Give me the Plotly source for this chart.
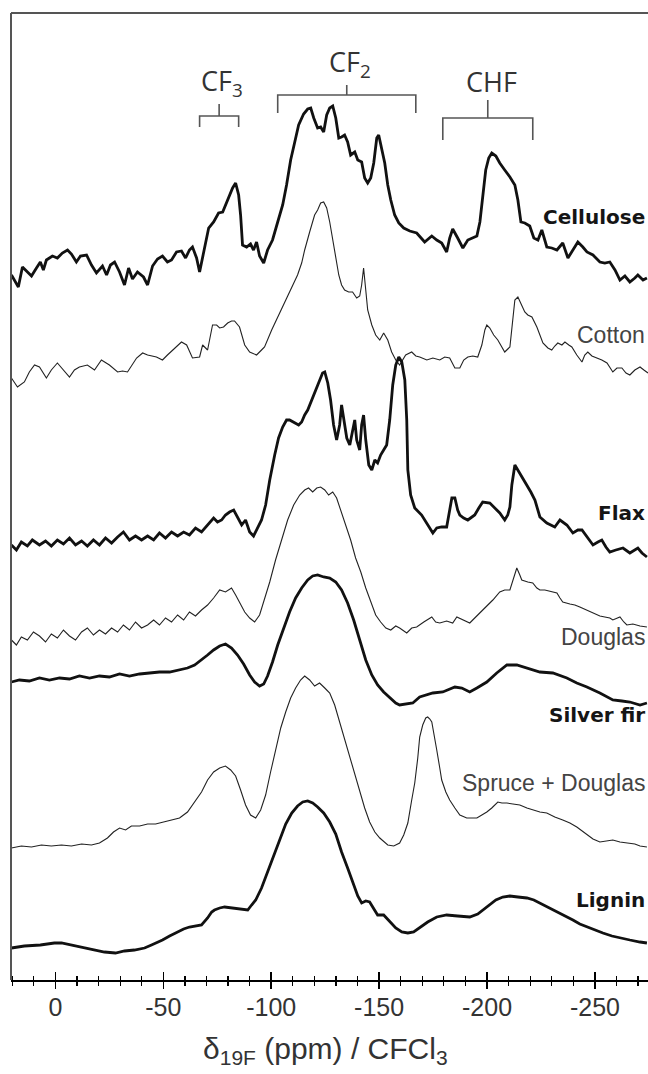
import plotly.graph_objects as go

# ---------------- data (ppm, intensity above each spectrum's own baseline) ----------------
cellulose_ppm = [20.4,19.0,17.2,15.3,13.0,11.1,8.8,7.0,5.6,4.2,
 1.4,-0.9,-3.2,-5.6,-7.4,-9.7,-11.6,-14.4,-16.7,-19.0,
 -21.8,-23.7,-25.5,-27.4,-29.7,-32.0,-33.9,-35.7,-38.0,-40.8,
 -42.7,-45.0,-47.3,-49.6,-51.9,-53.8,-56.1,-58.4,-60.3,-62.1,
 -63.5,-65.4,-66.8,-69.1,-71.0,-73.3,-75.6,-77.5,-78.8,-80.7,
 -82.1,-83.5,-84.9,-85.8,-86.7,-88.6,-90.4,-91.8,-93.2,-94.6,
 -96.5,-98.3,-100.6,-103.0,-105.3,-107.1,-109.0,-110.8,-112.7,-115.0,
 -116.9,-118.3,-119.7,-121.5,-122.9,-124.3,-125.7,-127.1,-128.5,-129.9,
 -131.3,-132.6,-134.0,-135.4,-136.8,-138.7,-140.1,-141.9,-143.3,-144.7,
 -146.1,-147.5,-148.9,-149.8,-151.2,-152.6,-154.0,-155.4,-157.2,-159.1,
 -161.4,-164.2,-167.4,-171.1,-174.4,-176.7,-179.0,-181.3,-182.7,-184.1,
 -186.4,-188.8,-191.1,-193.4,-195.3,-196.7,-198.0,-199.4,-200.8,-202.2,
 -204.1,-205.9,-208.2,-210.6,-212.9,-214.3,-215.7,-217.5,-219.8,-221.7,
 -223.6,-225.4,-227.7,-230.0,-232.4,-235.1,-237.5,-239.8,-242.1,-244.4,
 -246.3,-249.1,-252.3,-254.6,-256.9,-259.3,-261.6,-263.9,-266.2,-268.5,
 -269.9,-272.3,-274.1]
cellulose_int = [5,0,-7,13,8,4,12,18,10,20,
 24,22,27,30,26,18,24,25,15,7,
 14,5,15,18,8,-5,12,1,8,3,
 -5,14,21,24,18,20,28,29,22,30,
 33,22,8,32,52,58,67,68,75,84,
 92,97,85,65,35,33,36,30,38,24,
 17,30,40,58,75,95,120,137,155,166,
 171,172,162,152,153,148,165,172,174,162,
 142,143,145,138,125,128,120,118,102,97,
 102,117,142,145,132,117,95,80,65,57,
 52,49,47,38,44,40,37,28,42,51,
 42,32,40,42,44,58,85,110,122,127,
 124,117,110,103,95,80,58,57,54,42,
 40,50,33,32,30,37,22,30,38,33,
 28,25,18,17,18,10,0,4,-2,2,
 5,0,2]

cotton_ppm = [20.4,17.6,14.4,12.1,9.7,7.4,4.2,1.9,-0.9,-3.7,
 -6.5,-8.8,-11.1,-14.8,-18.1,-21.3,-25.0,-28.8,-31.1,-33.4,
 -35.7,-37.6,-40.4,-42.7,-46.8,-49.6,-51.9,-54.3,-56.6,-58.4,
 -60.8,-63.5,-66.8,-68.2,-70.5,-72.8,-74.7,-76.1,-77.9,-79.8,
 -81.6,-83.0,-85.3,-87.7,-90.0,-93.2,-95.5,-96.9,-100.2,-103.9,
 -106.2,-109.9,-112.2,-114.1,-115.5,-117.8,-120.1,-121.5,-122.9,-124.3,
 -125.7,-127.1,-128.5,-129.9,-131.3,-132.6,-134.0,-135.9,-137.7,-139.6,
 -141.0,-141.9,-142.8,-143.8,-144.7,-146.6,-148.4,-150.3,-152.1,-154.0,
 -155.8,-157.7,-159.5,-162.3,-165.1,-167.0,-168.8,-172.1,-174.9,-178.1,
 -180.4,-182.7,-185.1,-187.4,-189.2,-191.1,-193.4,-195.7,-197.6,-199.0,
 -199.9,-201.3,-203.1,-205.0,-206.9,-208.2,-210.6,-212.0,-212.9,-214.3,
 -215.7,-217.5,-218.9,-220.8,-223.1,-224.5,-225.9,-228.2,-230.0,-231.4,
 -232.8,-234.7,-236.1,-237.9,-239.3,-241.6,-244.0,-245.3,-246.7,-248.6,
 -250.9,-253.2,-255.6,-258.3,-260.2,-262.5,-264.4,-266.2,-268.5,-270.9,
 -272.7,-274.6]
cotton_int = [2,-7,-2,8,15,13,2,10,17,10,
 3,10,13,15,10,20,15,8,9,8,
 15,22,27,25,23,20,25,30,35,38,
 35,22,23,35,30,55,55,52,53,57,
 59,59,53,35,28,25,30,33,50,67,
 77,93,105,117,130,148,165,170,177,178,
 172,158,140,120,105,95,90,88,88,82,
 84,95,112,90,70,55,45,40,47,40,
 28,20,15,25,28,24,23,20,22,20,
 23,22,12,12,20,23,24,23,35,50,
 55,52,45,40,32,28,33,60,80,83,
 77,68,65,63,53,45,37,32,30,34,
 37,35,38,35,33,25,18,25,28,24,
 22,20,17,8,12,12,7,5,10,13,
 10,7]

flax_ppm = [20.4,18.1,15.8,13.0,10.7,7.4,4.6,1.9,-0.9,-3.7,
 -6.5,-9.3,-12.1,-14.8,-17.6,-20.4,-23.2,-26.0,-28.8,-31.5,
 -34.3,-37.1,-39.9,-42.7,-45.5,-48.2,-51.0,-53.8,-56.6,-59.4,
 -62.1,-64.9,-67.7,-70.5,-73.3,-75.1,-77.0,-78.8,-80.7,-82.6,
 -84.4,-86.3,-88.1,-90.0,-91.8,-93.7,-95.5,-97.4,-99.3,-101.6,
 -103.4,-105.3,-107.1,-108.5,-110.8,-112.7,-114.1,-115.5,-116.9,-118.7,
 -120.1,-122.0,-123.8,-124.8,-126.2,-127.5,-128.9,-130.3,-131.7,-132.6,
 -133.6,-135.0,-136.4,-137.7,-138.7,-139.6,-141.0,-141.9,-142.8,-143.8,
 -145.2,-146.6,-148.0,-149.3,-150.7,-152.1,-153.5,-154.9,-156.3,-157.7,
 -159.1,-160.5,-161.9,-162.8,-163.3,-164.6,-166.5,-169.7,-172.5,-174.9,
 -176.7,-179.0,-181.3,-182.7,-183.7,-185.1,-186.4,-187.4,-189.2,-191.1,
 -194.3,-196.2,-198.0,-201.3,-203.6,-205.9,-208.2,-209.6,-210.6,-211.5,
 -212.9,-214.3,-215.2,-217.1,-218.5,-220.3,-222.2,-224.5,-227.7,-231.4,
 -233.8,-237.0,-239.8,-242.1,-244.0,-246.7,-249.1,-251.4,-253.2,-255.1,
 -256.9,-259.7,-263.0,-266.2,-268.1,-269.9,-271.8,-274.1]
flax_int = [5,0,8,4,10,5,9,4,10,6,
 12,5,9,4,10,5,12,7,13,18,
 10,14,10,14,10,17,12,18,14,18,
 15,22,18,25,32,28,30,35,38,40,
 32,25,30,18,14,22,30,45,70,95,
 112,123,130,130,127,125,128,135,140,150,
 157,168,177,178,167,150,125,110,125,145,
 132,112,105,120,130,110,100,125,135,110,
 85,80,90,87,95,100,105,130,165,185,
 193,188,170,130,80,55,42,35,25,17,
 22,23,23,40,52,52,40,35,32,30,
 35,42,48,47,42,37,30,35,43,65,
 85,80,77,70,65,58,50,33,27,23,
 30,25,17,20,20,12,5,8,10,3,
 -2,0,2,-3,0,2,-3,-7]

douglas_ppm = [20.4,18.1,15.8,13.0,10.2,7.4,4.6,1.9,-0.9,-3.7,
 -6.5,-9.3,-12.1,-14.8,-17.6,-20.4,-23.2,-26.0,-28.8,-31.5,
 -34.3,-37.1,-39.9,-42.7,-45.5,-48.2,-51.0,-53.8,-56.6,-59.4,
 -62.1,-64.9,-67.7,-70.5,-73.3,-76.1,-78.8,-81.6,-83.5,-85.3,
 -87.7,-90.0,-92.3,-94.6,-96.9,-99.3,-102.0,-104.8,-107.6,-110.4,
 -113.2,-115.5,-117.3,-119.2,-121.1,-122.9,-124.8,-126.6,-128.5,-130.3,
 -132.2,-134.5,-136.8,-139.1,-141.5,-143.8,-146.1,-148.4,-150.7,-153.1,
 -155.4,-157.7,-159.5,-162.8,-165.1,-167.4,-170.7,-174.4,-176.2,-178.1,
 -181.3,-184.1,-186.0,-188.3,-192.0,-194.3,-196.7,-199.4,-202.7,-205.9,
 -208.2,-210.6,-212.4,-213.8,-215.2,-216.1,-218.9,-221.2,-223.1,-224.5,
 -226.8,-229.1,-232.4,-233.8,-235.1,-238.4,-240.7,-243.0,-246.3,-249.1,
 -252.3,-254.6,-256.9,-258.3,-260.2,-261.6,-263.4,-264.8,-267.6,-270.9,
 -274.1]
douglas_int = [0,-5,3,0,8,4,-2,6,2,10,
 4,0,8,12,5,10,6,12,8,15,
 10,18,12,15,20,15,22,18,25,20,
 28,24,30,35,42,50,48,52,45,38,
 28,22,18,25,40,58,80,100,120,135,
 145,150,152,148,152,153,150,145,148,142,
 130,115,100,82,68,52,38,25,18,12,
 10,14,12,7,12,13,18,23,18,17,
 19,17,23,21,17,22,27,33,40,48,
 50,50,62,72,65,60,58,57,52,50,
 50,49,47,42,38,36,35,33,30,27,
 24,23,22,20,22,23,18,15,16,14,
 13]

silverfir_ppm = [20.4,16.7,12.1,7.4,2.8,-1.9,-6.5,-11.1,-15.8,-20.4,
 -25.0,-29.7,-34.3,-39.0,-43.6,-48.2,-52.9,-57.5,-61.2,-64.5,
 -67.7,-70.5,-73.3,-76.1,-78.8,-81.6,-84.4,-87.2,-90.0,-92.3,
 -94.6,-96.5,-98.3,-100.6,-103.0,-105.7,-108.5,-111.3,-114.1,-116.9,
 -119.2,-121.5,-124.3,-127.1,-129.9,-132.6,-135.4,-138.2,-141.0,-143.8,
 -146.6,-149.3,-152.1,-154.9,-157.7,-159.5,-162.8,-165.6,-168.8,-172.1,
 -174.9,-179.5,-182.7,-185.1,-188.3,-192.0,-195.3,-199.9,-204.5,-209.2,
 -213.8,-218.5,-224.5,-230.5,-237.0,-241.6,-246.3,-252.3,-258.3,-262.5,
 -266.2,-270.9,-274.1]
silverfir_int = [23,25,24,27,25,27,26,29,27,29,
 28,31,29,31,32,33,33,35,37,40,
 45,50,55,59,61,57,50,41,30,23,
 19,21,29,43,60,77,93,107,117,125,
 129,130,128,127,123,115,102,85,65,45,
 30,20,13,7,2,0,1,2,8,10,
 12,13,16,18,17,13,17,23,32,40,
 40,37,33,32,27,22,18,12,5,4,
 3,0,2]

spruce_ppm = [20.4,15.8,11.1,6.5,1.9,-2.8,-7.4,-12.1,-16.7,-20.4,
 -24.1,-26.9,-29.7,-32.5,-35.2,-39.0,-42.7,-46.4,-50.1,-53.8,
 -57.5,-61.2,-64.5,-67.7,-70.5,-73.3,-76.1,-78.8,-81.2,-83.5,
 -85.8,-88.1,-90.4,-92.8,-95.1,-97.4,-99.7,-102.0,-104.4,-106.7,
 -109.0,-111.3,-113.6,-115.5,-117.8,-120.1,-122.4,-124.8,-127.1,-129.4,
 -131.7,-134.0,-136.4,-138.7,-141.0,-143.3,-145.6,-148.0,-150.3,-154.0,
 -156.8,-159.5,-161.4,-163.3,-165.1,-166.5,-167.9,-168.8,-170.2,-171.6,
 -172.5,-173.5,-174.4,-175.8,-176.7,-178.1,-179.0,-180.9,-182.7,-185.1,
 -187.4,-190.6,-192.9,-195.3,-197.6,-199.9,-202.2,-205.0,-206.9,-209.2,
 -212.0,-215.2,-218.5,-221.2,-224.5,-227.7,-231.4,-235.1,-238.4,-241.6,
 -244.0,-246.3,-249.1,-252.3,-255.6,-258.3,-261.6,-264.8,-268.5,-270.9,
 -274.1]
spruce_int = [0,2,1,3,2,3,2,4,3,5,
 10,16,20,18,22,22,24,24,26,28,
 30,36,46,56,68,76,80,82,78,72,
 58,43,33,30,38,53,76,98,120,136,
 150,160,168,172,168,162,165,160,155,143,
 126,108,90,73,56,40,26,16,10,3,
 2,5,13,25,48,65,90,111,123,130,
 131,129,126,111,98,80,68,56,48,40,
 33,30,30,30,33,36,40,46,45,45,
 44,43,40,38,36,35,31,28,25,21,
 17,13,9,6,7,8,6,5,4,2,
 1]

lignin_ppm = [20.4,14.4,7.0,0.5,-2.8,-7.4,-12.5,-18.1,-22.7,-27.8,
 -32.0,-36.6,-41.3,-44.5,-46.8,-49.6,-52.9,-56.6,-59.4,-62.1,
 -64.9,-67.7,-70.5,-72.4,-73.7,-76.1,-78.4,-81.6,-85.3,-89.1,
 -90.9,-92.8,-95.5,-98.3,-101.1,-103.9,-106.7,-109.5,-112.2,-114.6,
 -116.9,-119.2,-121.5,-124.3,-127.1,-129.9,-132.6,-135.4,-138.2,-140.1,
 -141.9,-143.8,-145.6,-147.5,-149.3,-152.1,-154.9,-157.7,-160.5,-163.3,
 -166.0,-168.8,-172.5,-176.7,-181.3,-186.4,-192.0,-195.7,-198.0,-201.3,
 -204.1,-207.3,-210.6,-214.3,-218.5,-221.7,-224.5,-228.2,-232.4,-236.1,
 -239.8,-243.0,-246.3,-250.0,-253.7,-257.9,-261.6,-266.2,-270.9,-274.1]
lignin_int = [2,4,5,7,7,5,3,0,-2,-3,
 -1,0,2,5,7,10,14,18,21,23,
 24,25,32,38,40,42,43,42,41,40,
 45,50,62,78,95,112,126,137,144,148,
 149,147,143,137,128,116,98,82,65,54,
 47,49,48,42,35,35,28,22,18,17,
 18,22,28,33,35,34,33,36,40,46,
 50,53,54,53,52,50,47,43,38,34,
 30,26,23,20,17,14,12,10,8,7]

sample_names = ["Cellulose", "Cotton", "Flax", "Douglas", "Silver fir", "Spruce + Douglas", "Lignin"]
series_ppm = [cellulose_ppm, cotton_ppm, flax_ppm, douglas_ppm, silverfir_ppm, spruce_ppm, lignin_ppm]
series_int = [cellulose_int, cotton_int, flax_int, douglas_int, silverfir_int, spruce_int, lignin_int]

tick_values = [0, -50, -100, -150, -200, -250]
tick_labels = ["0", "-50", "-100", "-150", "-200", "-250"]

group_names = ["CF<sub>3</sub>", "CF<sub>2</sub>", "CHF"]
group_ranges = [(-66.8, -84.9), (-103.0, -167.0), (-179.5, -221.2)]

# ---------------- layout / style ----------------
offsets = [700, 600, 430, 340, 275, 132, 30]
bold = [True, False, True, False, True, False, True]
label_y = [763, 645, 467, 343, 265, 197, 80]

fig = go.Figure()
for name, px_, iy, off, b in zip(sample_names, series_ppm, series_int, offsets, bold):
    n = min(len(px_), len(iy))
    fig.add_trace(go.Scatter(
        x=px_[:n], y=[v + off for v in iy[:n]], mode="lines", name=name,
        line=dict(color="#111111" if b else "#222222", width=2.8 if b else 1.1),
        hoverinfo="skip", showlegend=False))

# invisible trace to host the inner-tick axis
fig.add_trace(go.Scatter(x=[0], y=[0], xaxis="x2", mode="markers",
                         marker=dict(opacity=0), hoverinfo="skip", showlegend=False))

for name, b, ly in zip(sample_names, bold, label_y):
    fig.add_annotation(
        x=0.998, xref="paper", xanchor="right", y=ly, yref="y", yanchor="middle",
        text=name, showarrow=False,
        font=dict(family="DejaVu Sans" if b else "Liberation Sans",
                  size=20 if b else 23,
                  color="#151515" if b else "#444444",
                  weight="bold" if b else "normal"))

# brackets + group labels
bracket_levels = [(864, 853, 876, 898), (885, 867, 895, 917), (862, 840, 880, 899)]
for (lo, hi), (ytop, yend, ystem, ytxt), gname in zip(group_ranges, bracket_levels, group_names):
    mid = (lo + hi) / 2
    fig.add_shape(type="path",
                  path=f"M {lo},{yend} L {lo},{ytop} L {hi},{ytop} L {hi},{yend} M {mid},{ytop} L {mid},{ystem}",
                  xref="x", yref="y", line=dict(color="#555555", width=1.6))
    fig.add_annotation(x=mid - 1.5, y=ytxt, xref="x", yref="y", text=gname, showarrow=False,
                       xanchor="center", yanchor="middle",
                       font=dict(family="Open Sans", size=27, color="#333333"))

# frame: top and left gray borders
fig.add_shape(type="line", xref="paper", yref="paper", x0=0, x1=1, y0=1, y1=1,
              line=dict(color="#555555", width=2))
fig.add_shape(type="line", xref="paper", yref="paper", x0=0, x1=0, y0=0, y1=1,
              line=dict(color="#555555", width=2))

fig.add_annotation(x=0.493, xref="paper", y=-0.073, yref="paper",
                   text="δ<sub>19F</sub> (ppm) / CFCl<sub>3</sub>", showarrow=False,
                   xanchor="center", yanchor="middle",
                   font=dict(family="Liberation Sans", size=30, color="#333333"))

xrange = [20.6, -274.6]
fig.update_layout(
    width=648, height=1074,
    margin=dict(l=11, r=0, t=13, b=94),
    paper_bgcolor="white", plot_bgcolor="white",
    hovermode=False,
    xaxis=dict(range=xrange, tickmode="array", tickvals=tick_values, ticktext=tick_labels,
               ticks="outside", ticklen=7, tickwidth=1.5, tickcolor="black",
               ticklabelstandoff=-3,
               minor=dict(tickmode="linear", tick0=0, dtick=10, ticks="outside",
                          ticklen=4, tickwidth=1.2, tickcolor="black"),
               showline=True, linecolor="black", linewidth=1.5,
               showgrid=False, zeroline=False,
               tickfont=dict(family="Liberation Sans", size=25, color="#333333")),
    xaxis2=dict(range=xrange, overlaying="x", anchor="y", side="bottom",
                tickmode="array", tickvals=tick_values,
                ticks="inside", ticklen=8, tickwidth=1.5, tickcolor="black",
                minor=dict(tickmode="linear", tick0=0, dtick=10, ticks="inside",
                           ticklen=4, tickwidth=1.2, tickcolor="black"),
                showticklabels=False, showline=False, showgrid=False, zeroline=False),
    yaxis=dict(range=[0, 967], visible=False, fixedrange=True),
)

fig.write_html("out.html", default_width="648px", default_height="1074px",
               config={"displayModeBar": False, "staticPlot": True},
               post_script="document.body.style.margin='0';document.body.style.overflow='hidden';")
